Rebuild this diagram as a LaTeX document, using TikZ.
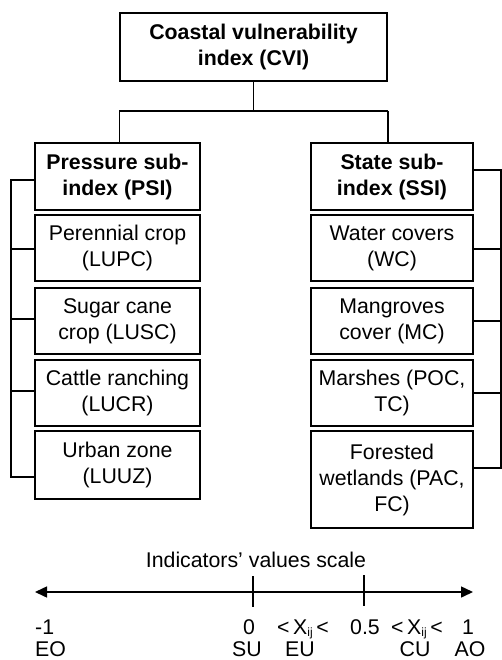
\documentclass[tikz,border=0pt]{standalone}
\usepackage{fontspec}
\setmainfont{Liberation Sans}
\usetikzlibrary{arrows.meta}
\begin{document}
\begin{tikzpicture}[x=1pt,y=-1pt,
  every node/.style={font=\fontsize{21.3}{26}\selectfont, inner sep=0pt},
  box/.style={draw, line width=1.5pt, align=center},
  lbox/.style={box, minimum width=165pt},
  rbox/.style={box, minimum width=162pt},
  title/.style={font=\fontsize{21.3}{26}\selectfont\bfseries},
  link/.style={line width=1.5pt},
  lbl/.style={anchor=base}]
\useasboundingbox (0,0) rectangle (502,660);

% top level index
\node[box, title, minimum width=267pt, minimum height=68pt]
  (cvi) at (253.5,47) {Coastal vulnerability\\index (CVI)};

% sub-indices
\node[lbox, title, minimum height=67pt] (psi) at (117.5,176.5) {Pressure sub-\\index (PSI)};
\node[rbox, title, minimum height=67pt] (ssi) at (392,176.5) {State sub-\\index (SSI)};

% pressure indicators
\node[lbox, minimum height=66pt] (lupc) at (117.5,248) {Perennial crop\\(LUPC)};
\node[lbox, minimum height=66pt] (lusc) at (117.5,321) {Sugar cane\\crop (LUSC)};
\node[lbox, minimum height=66pt] (lucr) at (117.5,393) {Cattle ranching\\(LUCR)};
\node[lbox, minimum height=68pt] (luuz) at (117.5,465) {Urban zone\\(LUUZ)};

% state indicators
\node[rbox, minimum height=66pt] (wc) at (392,248) {Water covers\\(WC)};
\node[rbox, minimum height=66pt] (mc) at (392,321) {Mangroves\\cover (MC)};
\node[rbox, minimum height=66pt] (ma) at (392,393) {Marshes (POC,\\TC)};
\node[rbox, minimum height=97pt] (fw) at (392,479.5) {Forested\\wetlands (PAC,\\FC)};

% tree connectors
\coordinate (bar) at (253.5,111);
\draw[link] (cvi.south) -- (bar);
\draw[link] (cvi.west |- bar) -- (cvi.east |- bar);
\draw[link] (cvi.west |- bar) -- (cvi.west |- psi.north);
\draw[link] (cvi.east |- bar) -- (cvi.east |- ssi.north);

% left bracket
\coordinate (lsp) at (11,180);
\draw[link] (psi.west |- lsp) -- (lsp) -- (11,477) -- (luuz.west |- 0,477);
\draw[link] (lupc.west |- 0,249) -- (11,249);
\draw[link] (lusc.west |- 0,319) -- (11,319);
\draw[link] (lucr.west |- 0,391) -- (11,391);

% right bracket
\coordinate (rsp) at (501,170);
\draw[link] (ssi.east |- rsp) -- (rsp) -- (501,468) -- (fw.east |- 0,468);
\draw[link] (wc.east |- 0,249) -- (501,249);
\draw[link] (mc.east |- 0,321) -- (501,321);
\draw[link] (ma.east |- 0,393) -- (501,393);

% indicator scale
\node[lbl] (sct) at (256,567) {Indicators' values scale};
\coordinate (sl) at (35,592);
\coordinate (sr) at (473,592);
\draw[link, {Triangle[length=12pt,width=11pt]}-{Triangle[length=12pt,width=11pt]}] (sl) -- (sr);
\coordinate (t0) at (253,576);
\coordinate (t5) at (364,575);
\draw[link] (t0) -- (253,607);
\draw[link] (t5) -- (364,606);

\node[lbl, anchor=base west] (vm1) at (35,634) {-1};
\node[lbl] (v0) at (249,634) {0};
\node[lbl] (c1) at (303,634) {<\,X\raisebox{-0.25ex}{\fontsize{12}{12}\selectfont ij}\,<};
\node[lbl] (v05) at (365,634) {0.5};
\node[lbl] (c2) at (417,634) {<\,X\raisebox{-0.25ex}{\fontsize{12}{12}\selectfont ij}\,<};
\node[lbl] (v1) at (468,634) {1};

\node[lbl, anchor=base west] (eo) at (35,656) {EO};
\node[lbl] (su) at (247,656) {SU};
\node[lbl] (eu) at (300,656) {EU};
\node[lbl] (cu) at (415,656) {CU};
\node[lbl] (ao) at (470,656) {AO};
\end{tikzpicture}
\end{document}
